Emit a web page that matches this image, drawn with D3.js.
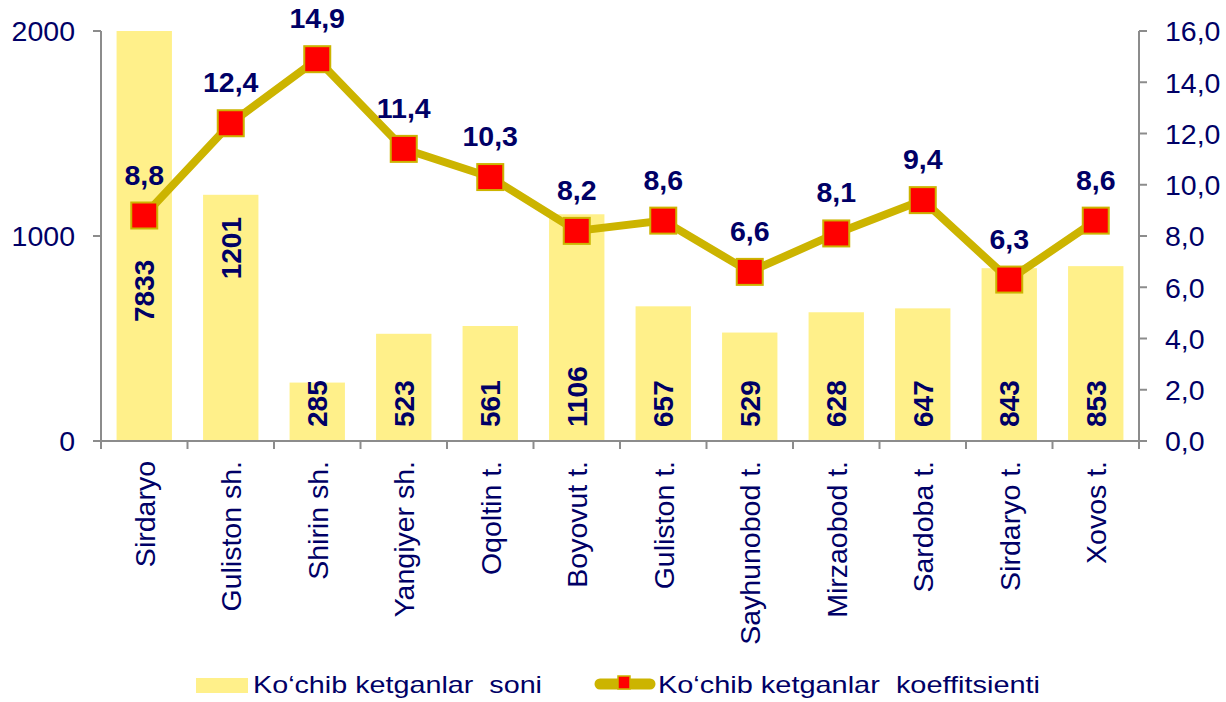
<!DOCTYPE html>
<html>
<head>
<meta charset="utf-8">
<script src="https://cdn.jsdelivr.net/npm/d3@7/dist/d3.min.js"></script>
<style>
  html, body { margin: 0; padding: 0; background: #ffffff; }
  svg { display: block; font-family: "Liberation Sans", Arial, sans-serif; }
</style>
</head>
<body>
<svg id="chart" width="1226" height="702"></svg>
<script>
const categories = ["Sirdaryo","Guliston sh.","Shirin sh.","Yangiyer sh.","Oqoltin t.","Boyovut t.","Guliston t.","Sayhunobod t.","Mirzaobod t.","Sardoba t.","Sirdaryo t.","Xovos t."];
const counts = [7833, 1201, 285, 523, 561, 1106, 657, 529, 628, 647, 843, 853];
const coefficients = [8.8, 12.4, 14.9, 11.4, 10.3, 8.2, 8.6, 6.6, 8.1, 9.4, 6.3, 8.6];
const leftTicks = [0, 1000, 2000];
const rightTicks = [0, 2, 4, 6, 8, 10, 12, 14, 16];
const seriesNames = ["Ko‘chib ketganlar  soni", "Ko‘chib ketganlar  koeffitsienti"];

(function () {
const navy = "#000066";
const barColor = "#FFF08A";
const lineColor = "#CCB400";
const axisColor = "#8C8C8C";

const svg = d3.select("#chart");
const pLeft = 101, pRight = 1139, pTop = 31, pBottom = 441;

const x = d3.scaleBand().domain(categories).range([pLeft, pRight]).paddingInner(0.36).paddingOuter(0.18);
const yL = d3.scaleLinear().domain([0, 2000]).range([pBottom, pTop]).clamp(true);
const yR = d3.scaleLinear().domain([0, 16]).range([pBottom, pTop]);
const step = x.step();
const cx = c => x(c) + x.bandwidth() / 2;
const fmt = v => d3.format(".1f")(v).replace(".", ",");

// bars
svg.append("g").selectAll("rect").data(categories).join("rect")
  .attr("x", c => x(c))
  .attr("width", x.bandwidth())
  .attr("y", (c, i) => yL(counts[i]))
  .attr("height", (c, i) => pBottom - yL(counts[i]))
  .attr("fill", barColor);

// axes
const ax = svg.append("g").attr("stroke", axisColor).attr("stroke-width", 2).attr("fill", "none");
ax.append("line").attr("x1", pLeft).attr("x2", pLeft).attr("y1", pTop).attr("y2", pBottom);
ax.append("line").attr("x1", pRight).attr("x2", pRight).attr("y1", pTop).attr("y2", pBottom);
ax.append("line").attr("x1", pLeft - 8).attr("x2", pRight + 8).attr("y1", pBottom).attr("y2", pBottom);
leftTicks.forEach(t => ax.append("line").attr("x1", pLeft - 8).attr("x2", pLeft).attr("y1", yL(t)).attr("y2", yL(t)));
rightTicks.forEach(t => ax.append("line").attr("x1", pRight).attr("x2", pRight + 8).attr("y1", yR(t)).attr("y2", yR(t)));
d3.range(categories.length + 1).forEach(i => {
  const bx = pLeft + i * step;
  ax.append("line").attr("x1", bx).attr("x2", bx).attr("y1", pBottom).attr("y2", pBottom + 8);
});

// tick labels
svg.append("g").selectAll("text").data(leftTicks).join("text")
  .attr("x", 75).attr("y", d => yL(d)).attr("dy", "0.36em")
  .attr("text-anchor", "end").attr("font-size", 28.5).attr("fill", navy)
  .text(d => d);
svg.append("g").selectAll("text").data(rightTicks).join("text")
  .attr("x", 1165).attr("y", d => yR(d)).attr("dy", "0.36em")
  .attr("text-anchor", "start").attr("font-size", 28.5).attr("fill", navy)
  .text(d => fmt(d));

// category labels
svg.append("g").selectAll("text").data(categories).join("text")
  .attr("transform", c => `translate(${cx(c)},461) rotate(-90)`)
  .attr("dy", "0.36em")
  .attr("text-anchor", "end").attr("font-size", 28.5).attr("fill", navy)
  .text(c => c);

// bar value labels
const barLabelAnchor = (i) => {
  if (i === 0) return { y: 322, anchor: "start" };
  if (i === 1) return { y: 217, anchor: "end" };
  return { y: 427, anchor: "start" };
};
svg.append("g").selectAll("text").data(categories).join("text")
  .attr("transform", (c, i) => `translate(${cx(c)},${barLabelAnchor(i).y}) rotate(-90)`)
  .attr("dy", "0.36em")
  .attr("text-anchor", (c, i) => barLabelAnchor(i).anchor)
  .attr("font-size", 28).attr("font-weight", "bold").attr("fill", navy)
  .text((c, i) => counts[i]);

// line
const line = d3.line().x((d, i) => cx(categories[i])).y(d => yR(d));
svg.append("path").datum(coefficients)
  .attr("d", line).attr("fill", "none")
  .attr("stroke", lineColor).attr("stroke-width", 8).attr("stroke-linejoin", "miter");

svg.append("g").selectAll("rect").data(coefficients).join("rect")
  .attr("x", (d, i) => cx(categories[i]) - 13)
  .attr("y", d => yR(d) - 13)
  .attr("width", 26).attr("height", 26)
  .attr("fill", "#FF0000").attr("stroke", lineColor).attr("stroke-width", 2);

svg.append("g").selectAll("text").data(coefficients).join("text")
  .attr("x", (d, i) => cx(categories[i]))
  .attr("y", d => yR(d) - 31)
  .attr("text-anchor", "middle").attr("font-size", 28.5).attr("font-weight", "bold").attr("fill", navy)
  .text(d => fmt(d));

// legend
const lg = svg.append("g");
lg.append("rect").attr("x", 196).attr("y", 678).attr("width", 52).attr("height", 15).attr("fill", barColor);
lg.append("text").attr("x", 253).attr("y", 693).attr("font-size", 24).attr("fill", navy)
  .attr("textLength", 289).attr("lengthAdjust", "spacingAndGlyphs")
  .style("white-space", "pre").text(seriesNames[0]);
lg.append("line").attr("x1", 600).attr("x2", 650).attr("y1", 684).attr("y2", 684)
  .attr("stroke", lineColor).attr("stroke-width", 11).attr("stroke-linecap", "round");
lg.append("rect").attr("x", 618).attr("y", 676).attr("width", 12).attr("height", 13)
  .attr("fill", "#FF0000").attr("stroke", lineColor).attr("stroke-width", 1.5);
lg.append("text").attr("x", 658).attr("y", 693).attr("font-size", 24).attr("fill", navy)
  .attr("textLength", 382).attr("lengthAdjust", "spacingAndGlyphs")
  .style("white-space", "pre").text(seriesNames[1]);
})();
</script>
</body>
</html>
